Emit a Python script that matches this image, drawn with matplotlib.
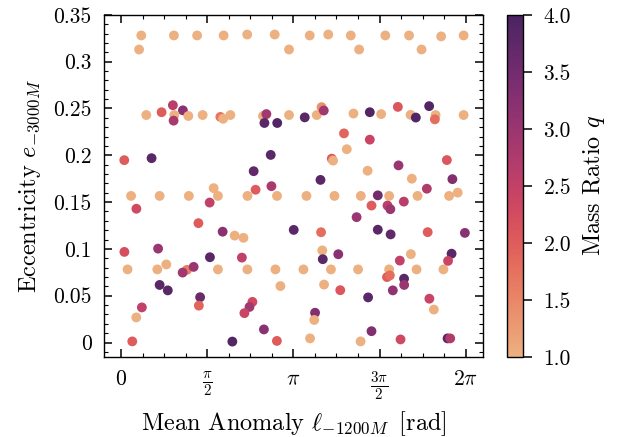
import numpy as np
import matplotlib
matplotlib.use("Agg")
import matplotlib.pyplot as plt
import seaborn as sns
from matplotlib.ticker import MultipleLocator, FixedLocator, FixedFormatter

# values
anomaly = [
    0.365, 0.961, 1.384, 1.868, 2.298, 2.800, 3.439, 3.777, 4.188, 4.818, 5.251, 5.837, 6.247,
    0.325, 3.061, 4.340, 5.479,
    0.457, 0.736, 0.942, 1.125, 0.968, 0.955, 1.224, 1.485, 1.808, 1.859, 1.991, 2.586, 2.648,
    2.612, 2.846, 3.061, 3.348, 3.567, 3.655, 3.695, 4.237, 4.535, 4.742, 5.047, 5.279, 5.375,
    5.618, 5.735, 5.722, 6.247,
    0.055, 0.553, 1.686, 2.727, 3.841, 3.865, 2.416, 3.635, 2.451, 2.740, 4.064, 4.115, 4.535,
    5.059, 4.495, 5.941, 5.302, 6.042, 5.576, 6.139,
    0.179, 0.700, 1.233, 1.764, 2.303, 2.842, 3.379, 3.890, 4.371, 4.888, 5.406, 5.982,
    4.681, 0.276, 1.613, 1.408, 1.850, 2.069, 2.230, 0.057, 0.672, 1.618, 0.115, 0.658, 0.822,
    1.198, 1.120, 1.321, 1.764, 0.700, 0.849, 1.439, 1.416, 0.376, 0.274, 0.201, 2.027,
    4.294, 3.147, 3.646, 2.201, 3.668, 3.677, 3.960,
    2.301, 2.813, 3.324, 3.826, 4.321, 4.888, 5.388, 5.878,
    2.904, 3.700, 3.996, 2.393, 2.340, 2.247, 3.536, 3.521, 2.603, 2.840, 3.445, 4.367,
    5.284, 5.083, 6.027, 5.963, 4.849, 4.901, 5.160, 5.162, 4.955, 4.504, 5.622, 5.704,
    4.566, 5.096, 5.954, 6.002, 4.681, 4.915, 5.591, 6.270, 4.566, 4.858, 4.910, 5.156,
]
eccentricity = [
    0.328, 0.328, 0.328, 0.328, 0.329, 0.329, 0.328, 0.329, 0.328, 0.328, 0.328, 0.327, 0.328,
    0.313, 0.313, 0.313, 0.313,
    0.243, 0.246, 0.2535, 0.248, 0.243, 0.237, 0.242, 0.243, 0.241, 0.239, 0.243, 0.242, 0.244,
    0.2345, 0.2345, 0.243, 0.2405, 0.243, 0.2514, 0.2478, 0.2446, 0.246, 0.244, 0.2517, 0.2432, 0.2403,
    0.2525, 0.243, 0.2384, 0.243,
    0.1948, 0.1969, 0.1649, 0.2004, 0.1964, 0.1943, 0.1830, 0.1737, 0.1632, 0.1670, 0.2234, 0.2065, 0.2167,
    0.1892, 0.1835, 0.1949, 0.1750, 0.1745, 0.1643, 0.1601,
    0.1566, 0.1566, 0.1566, 0.1566, 0.1566, 0.1566, 0.1566, 0.1566, 0.1566, 0.1566, 0.1566, 0.1566,
    0.1572, 0.1429, 0.1495, 0.1275, 0.1184, 0.1142, 0.1118, 0.0968, 0.1003, 0.0911, 0.0781, 0.0781, 0.0834,
    0.0776, 0.0747, 0.0808, 0.0781, 0.0615, 0.0557, 0.0484, 0.0394, 0.0375, 0.0268, 0.0012, 0.0010,
    0.1339, 0.1203, 0.1178, 0.0907, 0.0984, 0.0890, 0.0943,
    0.0781, 0.0781, 0.0781, 0.0781, 0.0781, 0.0781, 0.0781, 0.0781,
    0.0603, 0.0619, 0.0559, 0.0434, 0.0380, 0.0314, 0.0318, 0.0241, 0.0140, 0.0017, 0.0044, 0.0012,
    0.0944, 0.0875, 0.0949, 0.0872, 0.0699, 0.0717, 0.0682, 0.0615, 0.0557, 0.0482, 0.0468, 0.0352,
    0.0121, 0.0033, 0.0044, 0.0044, 0.1205, 0.1155, 0.1179, 0.1171, 0.1463, 0.1463, 0.1424, 0.1505,
]
mass_ratio = [
    1.0, 1.0, 1.0, 1.0, 1.0, 1.0, 1.0, 1.0, 1.0, 1.0, 1.0, 1.0, 1.0,
    1.0, 1.0, 1.0, 1.0,
    1.0, 2.0, 2.6, 3.2, 1.0, 2.8, 1.0, 1.0, 1.7, 1.0, 1.0, 1.0, 2.9,
    3.8, 3.9, 1.0, 3.8, 1.0, 1.4, 2.9, 1.0, 3.9, 1.0, 2.1, 1.0, 3.9,
    3.9, 1.0, 1.8, 1.0,
    2.0, 3.8, 1.0, 3.8, 2.0, 1.0, 3.7, 3.8, 2.0, 2.8, 1.9, 1.0, 2.4,
    3.0, 1.0, 2.1, 1.0, 3.3, 2.7, 1.0,
    1.0, 1.0, 1.0, 1.0, 1.0, 1.0, 1.0, 1.0, 1.0, 1.0, 1.0, 1.0,
    3.5, 2.3, 2.5, 2.0, 3.2, 1.0, 1.0, 2.2, 3.0, 3.8, 1.0, 1.0, 1.0,
    1.6, 2.9, 3.0, 1.0, 3.8, 3.8, 3.6, 1.9, 2.5, 1.0, 2.0, 3.9,
    3.0, 3.8, 1.8, 2.5, 1.0, 3.8, 3.2,
    1.0, 1.0, 1.0, 1.0, 1.0, 1.0, 1.0, 1.0,
    1.0, 1.0, 2.1, 2.3, 2.9, 2.4, 3.3, 1.0, 3.2, 2.0, 1.0, 1.0,
    1.0, 2.5, 3.8, 2.4, 2.0, 1.8, 3.8, 3.0, 3.1, 3.8, 2.4, 1.0,
    3.3, 2.3, 3.8, 2.7, 3.8, 3.7, 2.0, 3.2, 2.0, 2.6, 3.0, 2.6,
]

x_ticks = [0, np.pi / 2, np.pi, 3 * np.pi / 2, 2 * np.pi]
x_ticklabels = [r'$0$', r'$\frac{\pi}{2}$', r'$\pi$', r'$\frac{3\pi}{2}$', r'$2\pi$']
y_ticks = [0, 0.05, 0.1, 0.15, 0.2, 0.25, 0.3, 0.35]
y_ticklabels = ['0', '0.05', '0.1', '0.15', '0.2', '0.25', '0.3', '0.35']
cbar_ticks = [1.0, 1.5, 2.0, 2.5, 3.0, 3.5, 4.0]

TICK_FS = 15.5
LABEL_FS = 17.5

plt.rcParams.update({
    'font.family': 'serif',
    'font.serif': ['cmr10'],
    'mathtext.fontset': 'cm',
    'axes.unicode_minus': False,
    'axes.formatter.use_mathtext': True,
    'font.size': TICK_FS,
    'axes.linewidth': 1.0,
})

fig = plt.figure(figsize=(6.23, 4.37), dpi=100)
ax = fig.add_axes([0.167, 0.183, 0.608, 0.783])
cax = fig.add_axes([0.814, 0.183, 0.026, 0.783])

cmap = sns.color_palette("flare", as_cmap=True)
sc = ax.scatter(anomaly, eccentricity, c=mass_ratio, cmap=cmap, vmin=1, vmax=4,
                s=50, linewidths=0)

ax.set_xlim(-0.05 * 2 * np.pi, 1.05 * 2 * np.pi)
ax.set_ylim(-0.0155, 0.35)
ax.xaxis.set_major_locator(FixedLocator(x_ticks))
ax.xaxis.set_major_formatter(FixedFormatter(x_ticklabels))
ax.xaxis.set_minor_locator(MultipleLocator(np.pi / 8))
ax.yaxis.set_major_locator(FixedLocator(y_ticks))
ax.yaxis.set_major_formatter(FixedFormatter(y_ticklabels))
ax.yaxis.set_minor_locator(MultipleLocator(0.01))
ax.tick_params(which='both', direction='in', top=True, right=True)
ax.tick_params(which='major', length=5.5, width=1.1, labelsize=TICK_FS, pad=9)
ax.tick_params(which='minor', length=2.6, width=0.8)

ax.set_xlabel(r'Mean Anomaly $\ell_{-1200M}\;\;$[rad]', fontsize=LABEL_FS, labelpad=5)
ax.set_ylabel(r'Eccentricity $e_{-3000M}$', fontsize=LABEL_FS, labelpad=7)

cb = fig.colorbar(sc, cax=cax)
cb.set_ticks(cbar_ticks)
cb.set_ticklabels([f'{t:.1f}' for t in cbar_ticks])
cb.ax.tick_params(direction='out', length=6.5, width=1.1, labelsize=TICK_FS, pad=8)
cb.ax.minorticks_off()
cb.outline.set_linewidth(1.0)
cb.set_label(r'Mass Ratio $q$', fontsize=LABEL_FS, labelpad=7)

fig.savefig('out.png', dpi=100)
